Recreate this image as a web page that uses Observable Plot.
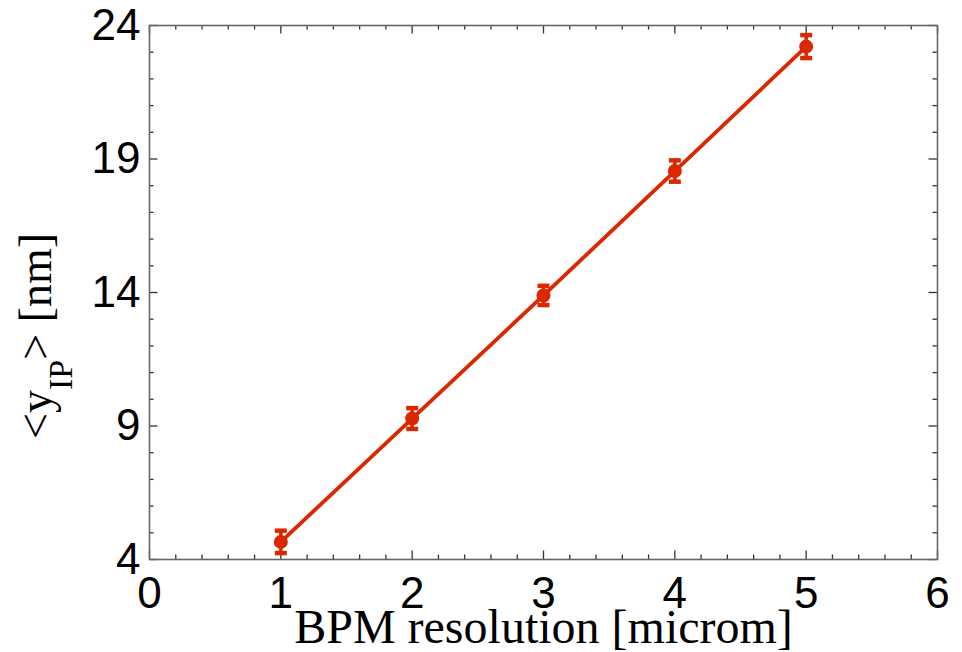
<!DOCTYPE html>
<html>
<head>
<meta charset="utf-8">
<script src="https://cdn.jsdelivr.net/npm/d3@7"></script>
<script src="https://cdn.jsdelivr.net/npm/@observablehq/plot@0.6"></script>
<style>
  html, body { margin: 0; padding: 0; background: #fff; overflow: hidden; }
  svg { display: block; }
</style>
</head>
<body>
<div id="chart"></div>
<script>
// ---- data ----
const resolution = [1, 2, 3, 4, 5];                 // BPM resolution [microm]
const yIP = [4.66, 9.28, 13.89, 18.55, 23.21];     // <y_IP> [nm]
const yErr = [0.42, 0.39, 0.36, 0.40, 0.43];       // error bar half-widths

const xMajor = [0, 1, 2, 3, 4, 5, 6];
const xMinor = [0.2, 0.4, 0.6, 0.8, 1.2, 1.4, 1.6, 1.8, 2.2, 2.4, 2.6, 2.8,
                3.2, 3.4, 3.6, 3.8, 4.2, 4.4, 4.6, 4.8, 5.2, 5.4, 5.6, 5.8];
const yMajor = [4, 9, 14, 19, 24];
const yMinor = [5, 6, 7, 8, 10, 11, 12, 13, 15, 16, 17, 18, 20, 21, 22, 23];

const xLabel = "BPM resolution [microm]";

const data = resolution.map((x, i) => ({x, y: yIP[i], lo: yIP[i] - yErr[i], hi: yIP[i] + yErr[i]}));

// ---- layout ----
const W = 962, H = 652;
const mL = 149, mR = 25, mT = 25, mB = 93;
const pw = W - mL - mR, ph = H - mT - mB;
const red = "#dc2800";
const tickColor = "#333";
const majorLen = 8.5, minorLen = 4.5;

const capSymbol = {
  draw(context) { context.moveTo(-6, 0); context.lineTo(6, 0); }
};

const plot = Plot.plot({
  width: W, height: H,
  marginLeft: mL, marginRight: mR, marginTop: mT, marginBottom: mB,
  x: {domain: [0, 6]},
  y: {domain: [4, 24]},
  style: {fontFamily: "'Liberation Sans', Arial, sans-serif", fontSize: "44px", color: "#000", background: "#fff"},
  marks: [
    // inward ticks on all four sides
    Plot.tickX(xMajor, {x: d => d, insetTop: ph - majorLen, stroke: tickColor, strokeWidth: 1.3}),
    Plot.tickX(xMinor, {x: d => d, insetTop: ph - minorLen, stroke: tickColor, strokeWidth: 1.3}),
    Plot.tickX(xMajor, {x: d => d, insetBottom: ph - majorLen, stroke: tickColor, strokeWidth: 1.3}),
    Plot.tickX(xMinor, {x: d => d, insetBottom: ph - minorLen, stroke: tickColor, strokeWidth: 1.3}),
    Plot.tickY(yMajor, {y: d => d, insetRight: pw - majorLen, stroke: tickColor, strokeWidth: 1.3}),
    Plot.tickY(yMinor, {y: d => d, insetRight: pw - minorLen, stroke: tickColor, strokeWidth: 1.3}),
    Plot.tickY(yMajor, {y: d => d, insetLeft: pw - majorLen, stroke: tickColor, strokeWidth: 1.3}),
    Plot.tickY(yMinor, {y: d => d, insetLeft: pw - minorLen, stroke: tickColor, strokeWidth: 1.3}),
    Plot.frame({stroke: "#666", strokeWidth: 1.6}),
    // data
    Plot.line(data, {x: "x", y: "y", stroke: red, strokeWidth: 3.8}),
    Plot.ruleX(data, {x: "x", y1: "lo", y2: "hi", stroke: red, strokeWidth: 3.5}),
    Plot.dot(data, {x: "x", y: "lo", symbol: capSymbol, fill: "none", stroke: red, strokeWidth: 4.5}),
    Plot.dot(data, {x: "x", y: "hi", symbol: capSymbol, fill: "none", stroke: red, strokeWidth: 4.5}),
    Plot.dot(data, {x: "x", y: "y", r: 7, fill: red, stroke: "none"}),
    // axes
    Plot.axisX({ticks: xMajor, tickSize: 0, tickPadding: 17, fontSize: 44, label: null, tickFormat: d => String(d)}),
    Plot.axisY({ticks: yMajor, tickSize: 0, tickPadding: 9, fontSize: 44, label: null, tickFormat: d => String(d)}),
    // x label
    Plot.text([xLabel], {text: d => d, frameAnchor: "bottom", dy: 83, lineAnchor: "bottom",
      fontFamily: "'Liberation Serif', 'Times New Roman', serif", fontSize: 48, fill: "#000"})
  ]
});

// y label with subscript
const svg = d3.select(plot);
const yl = svg.append("text")
  .attr("transform", "translate(51,336) rotate(-90)")
  .attr("text-anchor", "middle")
  .attr("fill", "#000")
  .style("font-family", "'Liberation Serif', 'Times New Roman', serif")
  .style("font-size", "46px");
yl.append("tspan").text("<y");
yl.append("tspan").attr("dy", 21).style("font-size", "34px").text("IP");
yl.append("tspan").attr("dy", -21).text("> [nm]");

document.getElementById("chart").appendChild(plot);
</script>
</body>
</html>
